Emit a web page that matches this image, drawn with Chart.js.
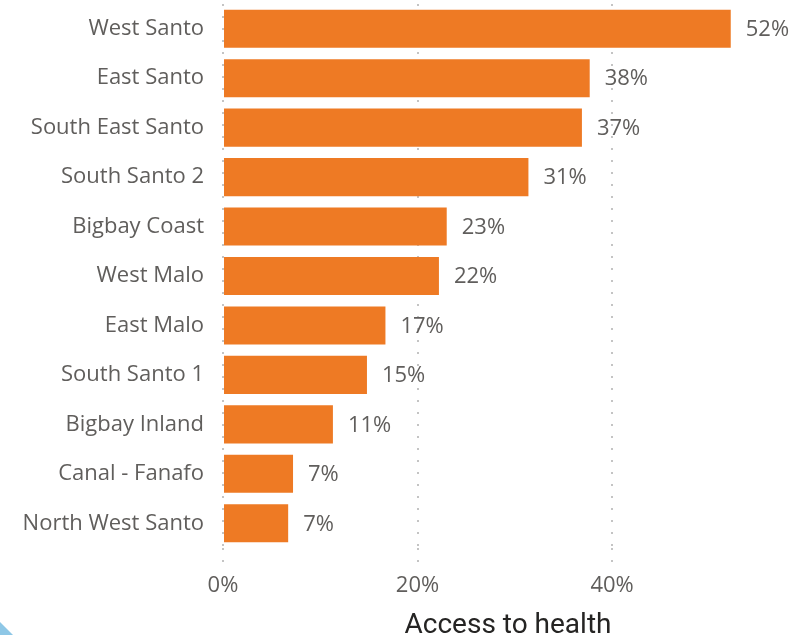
<!DOCTYPE html>
<html lang="en">
<head>
    <meta charset="UTF-8">
    <title>Access to health</title>
    <script src="https://cdn.jsdelivr.net/npm/chart.js"></script>
    <style>
        html, body { margin: 0; padding: 0; background: #fff; }
        #wrap { position: relative; width: 799px; height: 635px; }
        /* small blue corner decoration */
        #corner {
            position: absolute; left: 0; bottom: 0; width: 0; height: 0;
            border-bottom: 13px solid #8ec7e6;
            border-right: 13px solid transparent;
        }
    </style>
</head>
<body>
    <div id="wrap">
        <canvas id="chart" width="799" height="635"></canvas>
        <div id="corner"></div>
    </div>

    <script>
        // Data
        const areas = ['West Santo', 'East Santo', 'South East Santo', 'South Santo 2', 'Bigbay Coast',
            'West Malo', 'East Malo', 'South Santo 1', 'Bigbay Inland', 'Canal - Fanafo', 'North West Santo'];
        const accessPct = [52.2, 37.7, 36.9, 31.4, 23.0, 22.2, 16.7, 14.8, 11.3, 7.2, 6.7];
        const xTicks = [0, 20, 40];

        const textGrey = '#605e5c';
        const font = "'Open Sans', 'Noto Sans', sans-serif";

        // Value labels to the right of each bar
        const valueLabels = {
            id: 'valueLabels',
            afterDatasetsDraw(chart) {
                const ctx = chart.ctx;
                const meta = chart.getDatasetMeta(0);
                ctx.save();
                ctx.font = '22px ' + font;
                ctx.fillStyle = textGrey;
                ctx.textAlign = 'left';
                ctx.textBaseline = 'middle';
                meta.data.forEach((bar, i) => {
                    ctx.fillText(Math.round(accessPct[i]) + '%', bar.x + 15, bar.y + 1);
                });
                ctx.restore();
            }
        };

        new Chart(document.getElementById('chart'), {
            type: 'bar',
            data: {
                labels: areas,
                datasets: [{
                    data: accessPct,
                    backgroundColor: '#ee7a24',
                    categoryPercentage: 1,
                    barPercentage: 0.77
                }]
            },
            options: {
                indexAxis: 'y',
                responsive: false,
                animation: false,
                layout: { padding: { top: 4, right: 6, left: 0, bottom: 0 } },
                plugins: {
                    legend: { display: false },
                    tooltip: { enabled: false }
                },
                scales: {
                    x: {
                        min: 0,
                        max: 58.6,
                        afterBuildTicks: scale => { scale.ticks = xTicks.map(v => ({ value: v })); },
                        afterFit: scale => { scale.height = 87; scale.paddingLeft = 0; scale.paddingRight = 0; },
                        border: { display: false, dash: [2, 10] },
                        grid: {
                            color: '#c4c4c4',
                            lineWidth: 2,
                            tickLength: 18,
                            tickColor: '#c4c4c4',
                            tickBorderDash: [2, 10]
                        },
                        ticks: {
                            padding: 7,
                            color: textGrey,
                            font: { family: font, size: 22 },
                            callback: v => v + '%'
                        },
                        title: {
                            display: true,
                            text: 'Access to health',
                            color: '#252423',
                            font: { family: "Roboto, sans-serif", size: 28 },
                            padding: { top: 0, bottom: -8 }
                        }
                    },
                    y: {
                        afterFit: scale => { scale.width = 223; scale.paddingTop = 0; scale.paddingBottom = 0; },
                        border: { display: false },
                        grid: { display: false, drawTicks: false },
                        ticks: {
                            padding: 19,
                            color: textGrey,
                            font: { family: font, size: 22 }
                        }
                    }
                }
            },
            plugins: [valueLabels]
        });
    </script>
</body>
</html>
